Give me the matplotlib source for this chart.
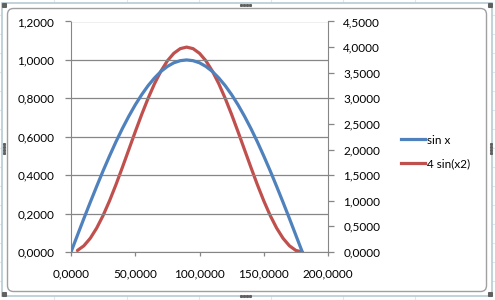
import matplotlib
matplotlib.use("Agg")
from matplotlib import pyplot as plt
from matplotlib.patches import FancyBboxPatch, Rectangle
from matplotlib.ticker import FuncFormatter, MultipleLocator
from matplotlib.lines import Line2D

# data (x in degrees)
x_sin = [0, 5, 10, 15, 20, 25, 30, 35, 40, 45, 50, 55, 60, 65, 70, 75, 80, 85, 90,
         95, 100, 105, 110, 115, 120, 125, 130, 135, 140, 145, 150, 155, 160, 165, 170, 175, 180]
y_sin = [0.000, 0.087, 0.174, 0.259, 0.342, 0.423, 0.500, 0.574, 0.643, 0.707, 0.766, 0.819,
         0.866, 0.906, 0.940, 0.966, 0.985, 0.996, 1.000,
         0.996, 0.985, 0.966, 0.940, 0.906, 0.866, 0.819, 0.766, 0.707, 0.643, 0.574, 0.500,
         0.423, 0.342, 0.259, 0.174, 0.087, 0.000]
x_sq = [5, 10, 15, 20, 25, 30, 35, 40, 45, 50, 55, 60, 65, 70, 75, 80, 85, 90,
        95, 100, 105, 110, 115, 120, 125, 130, 135, 140, 145, 150, 155, 160, 165, 170, 175, 180]
y_sq = [0.030, 0.121, 0.268, 0.468, 0.714, 1.000, 1.316, 1.653, 2.000, 2.347, 2.684, 3.000,
        3.286, 3.532, 3.732, 3.879, 3.970, 4.000,
        3.970, 3.879, 3.732, 3.532, 3.286, 3.000, 2.684, 2.347, 2.000, 1.653, 1.316, 1.000,
        0.714, 0.468, 0.268, 0.121, 0.030, 0.000]
labels = ["sin x", "4 sin(x2)"]

blue = "#4F81BD"
red = "#C0504D"
grid = "#868686"
W, H = 495, 300

plt.rcParams['font.family'] = ['Lato', 'DejaVu Sans']
fig = plt.figure(figsize=(W / 100, H / 100), dpi=100)

# spreadsheet background + chart frame
bg = fig.add_axes([0, 0, 1, 1])
bg.set_xlim(0, W)
bg.set_ylim(H, 0)
bg.axis('off')
for xv in [54, 127, 199, 271, 343, 415]:
    bg.plot([xv, xv], [0, H], color="#dfe6ec", lw=0.8, zorder=0)
for yv in range(15, H, 19):
    bg.plot([0, W], [yv, yv], color="#dfe6ec", lw=0.8, zorder=0)
bg.add_patch(Rectangle((2, 3), 490, 293, facecolor="white", edgecolor="#b7cbd3", lw=1.2, zorder=1))
bg.add_patch(FancyBboxPatch((7.5, 8.5), 479, 283, boxstyle="round,pad=0,rounding_size=6",
                            facecolor="white", edgecolor="#a0a0a0", lw=1.0, zorder=2))
for (hx, hy) in [(4, 5), (490, 5), (4, 294), (490, 294)]:
    bg.plot([hx - 1, hx + 1, hx - 1, hx + 1], [hy - 1, hy - 1, hy + 1, hy + 1], 's',
            ms=1.2, color="#606060", zorder=3)
bg.plot([241, 244, 247, 250], [5, 5, 5, 5], 's', ms=1.2, color="#606060", zorder=3)
bg.plot([241, 244, 247, 250], [296, 296, 296, 296], 's', ms=1.2, color="#606060", zorder=3)
bg.plot([4, 4, 4, 4], [144, 147, 150, 153], 's', ms=1.2, color="#606060", zorder=3)
bg.plot([491, 491, 491, 491], [144, 147, 150, 153], 's', ms=1.2, color="#606060", zorder=3)

left, right = 71 / W, 328 / W
bottom, top = 1 - 252 / H, 1 - 21.5 / H
ax = fig.add_axes([left, bottom, right - left, top - bottom])
ax2 = ax.twinx()
ax.set_zorder(ax2.get_zorder() + 1)
ax.patch.set_visible(False)
ax2.patch.set_visible(False)

fmt = FuncFormatter(lambda v, p: f"{v:.4f}".replace(".", ","))

ax.plot(x_sin, y_sin, color=blue, lw=2.3, solid_capstyle='round', zorder=3)
ax2.plot(x_sq, y_sq, color=red, lw=2.3, solid_capstyle='round')

ax.set_xlim(0, 200)
ax.set_ylim(0, 1.2)
ax2.set_ylim(0, 4.5)
ax.xaxis.set_major_locator(MultipleLocator(50))
ax.yaxis.set_major_locator(MultipleLocator(0.2))
ax2.yaxis.set_major_locator(MultipleLocator(0.5))
ax.xaxis.set_major_formatter(fmt)
ax.yaxis.set_major_formatter(fmt)
ax2.yaxis.set_major_formatter(fmt)

ax.grid(axis='y', color=grid, lw=0.9)
ax.set_axisbelow(True)
for a in (ax, ax2):
    for s in a.spines.values():
        s.set_visible(False)
ax.spines['left'].set_visible(True)
ax.spines['left'].set_color(grid)
ax.spines['bottom'].set_visible(True)
ax.spines['bottom'].set_color(grid)
ax2.spines['right'].set_visible(True)
ax2.spines['right'].set_color(grid)

ax.tick_params(axis='y', length=4, color=grid, width=0.9, pad=8, labelsize=8.5, labelcolor='black')
ax.tick_params(axis='x', length=3, color=grid, width=0.9, pad=9, labelsize=8.5, labelcolor='black')
ax2.tick_params(axis='y', length=4, color=grid, width=0.9, pad=7, labelsize=8.5, labelcolor='black')

handles = [Line2D([], [], color=blue, lw=2.3), Line2D([], [], color=red, lw=2.3)]
fig.legend(handles, labels, loc='center left', bbox_to_anchor=(395 / W, 1 - 152 / H),
           frameon=False, fontsize=8.5, handlelength=2.0, handletextpad=0.2,
           labelspacing=1.1, borderpad=0)

fig.savefig("out.png", dpi=100)
